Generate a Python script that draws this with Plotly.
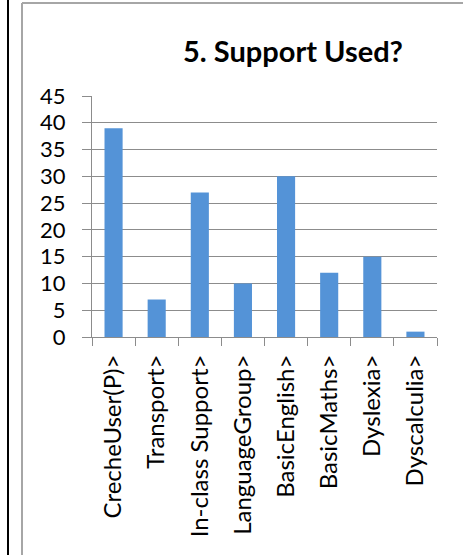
import plotly.graph_objects as go

# Survey responses: which support services were used
categories = [
    "CrecheUser(P)>",
    "Transport>",
    "In-class Support>",
    "LanguageGroup>",
    "BasicEnglish>",
    "BasicMaths>",
    "Dyslexia>",
    "Dyscalculia>",
]
counts = [39, 7, 27, 10, 30, 12, 15, 1]
y_ticks = [0, 5, 10, 15, 20, 25, 30, 35, 40, 45]

W, H = 463, 555
M_L, M_R, M_T, M_B = 92, 26, 96, 218
PW = W - M_L - M_R
PH = H - M_T - M_B


def px_x(px):
    return (px - M_L) / PW


def px_y(py):
    return (H - M_B - py) / PH


FONT = "Lato, 'Open Sans', sans-serif"

fig = go.Figure(
    go.Bar(
        x=categories,
        y=counts,
        marker=dict(color="#5493d7", line=dict(width=0)),
        hoverinfo="x+y",
    )
)

fig.update_layout(
    width=W,
    height=H,
    margin=dict(l=M_L, r=M_R, t=M_T, b=M_B, pad=0),
    paper_bgcolor="white",
    plot_bgcolor="white",
    bargap=0.58,
    showlegend=False,
    font=dict(family=FONT, color="black"),
    title=dict(
        text="<b>5. Support Used?</b>",
        font=dict(family=FONT, size=29, color="black"),
        x=293 / W,
        xanchor="center",
        y=1 - 52 / H,
        yanchor="middle",
    ),
)

fig.update_yaxes(
    range=[0, 45],
    tickvals=y_ticks,
    showgrid=True,
    gridcolor="#8c8c8c",
    gridwidth=1,
    showline=True,
    linecolor="#8c8c8c",
    linewidth=1,
    ticks="outside",
    ticklen=9,
    tickcolor="#8c8c8c",
    tickfont=dict(family=FONT, size=22, color="black"),
    ticklabelstandoff=12,
    zeroline=False,
    fixedrange=True,
)

fig.update_xaxes(
    type="category",
    showline=True,
    linecolor="#8c8c8c",
    linewidth=1,
    ticks="outside",
    ticklen=8,
    tickcolor="#8c8c8c",
    tickson="boundaries",
    tickangle=-90,
    tickfont=dict(family=FONT, size=24, color="black"),
    ticklabelstandoff=7,
    showgrid=False,
    fixedrange=True,
)

# Page edge and chart frame
fig.add_shape(
    type="line", xref="paper", yref="paper",
    x0=px_x(8), x1=px_x(8), y0=px_y(-5), y1=px_y(H + 5),
    line=dict(color="black", width=2),
)
fig.add_shape(
    type="line", xref="paper", yref="paper",
    x0=px_x(22), x1=px_x(22), y0=px_y(3), y1=px_y(H + 5),
    line=dict(color="#a6a6a6", width=2),
)
fig.add_shape(
    type="line", xref="paper", yref="paper",
    x0=px_x(22), x1=px_x(W + 5), y0=px_y(3), y1=px_y(3),
    line=dict(color="#a6a6a6", width=2),
)

fig.write_html("out.html")
